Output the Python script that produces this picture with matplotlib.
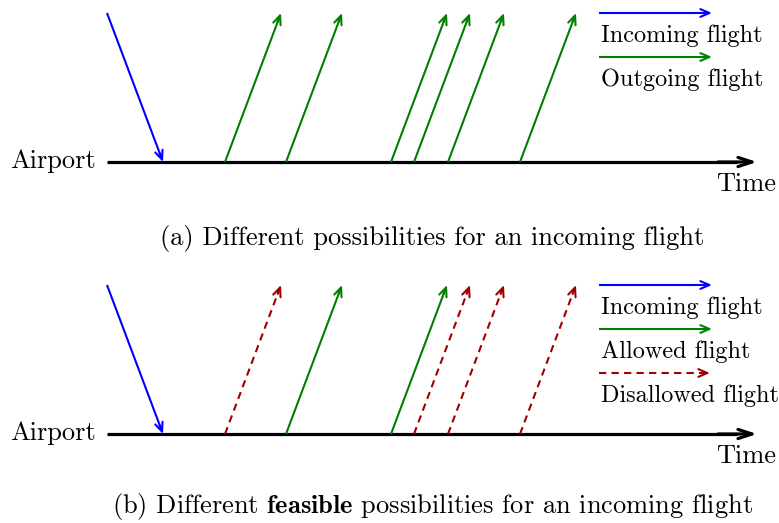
import matplotlib
matplotlib.use("Agg")
import matplotlib.pyplot as plt

plt.rcParams["mathtext.fontset"] = "cm"
plt.rcParams["font.family"] = "cmr10"
plt.rcParams["axes.unicode_minus"] = False

# departure times along the time axis (same units as the drawing)
incoming_start = 107
incoming_arrival = 163
departures = [225, 286, 391, 414, 448, 520]
allowed = [False, True, True, False, False, False]
climb = 56  # horizontal travel of a departing flight

captions = ["(a) Different possibilities for an incoming flight",
            "(b) Different $\\mathbf{feasible}$ possibilities for an incoming flight"]
legend_a = ["Incoming flight", "Outgoing flight"]
legend_b = ["Incoming flight", "Allowed flight", "Disallowed flight"]

BLUE = "#0000ff"
GREEN = "#008000"
RED = "#a00000"
FS = 19
FS_LEG = 17.5

fig = plt.figure(figsize=(7.79, 5.23), dpi=100)
ax = fig.add_axes([0, 0, 1, 1])
ax.set_xlim(0, 779)
ax.set_ylim(523, 0)
ax.axis("off")


def arrow(x0, y0, x1, y1, color, lw=1.5, dashed=False, hl=0.65, hw=0.28):
    ls = (0, (3.5, 2.5)) if dashed else "-"
    # shaft stops a bit short so the head stays crisp
    f = 0.97
    ax.plot([x0, x0 + (x1 - x0) * f], [y0, y0 + (y1 - y0) * f],
            color=color, lw=lw, linestyle=ls, solid_capstyle="butt")
    hx = x1 - (x1 - x0) * 0.06
    hy = y1 - (y1 - y0) * 0.06
    ax.annotate("", xy=(x1, y1), xytext=(hx, hy),
                arrowprops=dict(arrowstyle=f"->,head_length={hl},head_width={hw}",
                                color=color, lw=lw, shrinkA=0, shrinkB=0,
                                mutation_scale=10))


def panel(ground, top, caption, caption_y, legend, colored):
    # time axis
    arrow(incoming_start, ground, 757, ground, "black", lw=2.3, hl=1.0, hw=0.33)
    ax.text(96, ground + 6, "Airport", ha="right", va="baseline", fontsize=FS)
    ax.text(776, ground + 29, "Time", ha="right", va="baseline", fontsize=FS)

    # incoming flight
    arrow(incoming_start, top, incoming_arrival, ground, BLUE)

    # departing flights
    for dep, ok in zip(departures, colored):
        if ok:
            arrow(dep, ground, dep + climb, top, GREEN)
        else:
            arrow(dep, ground, dep + climb, top, RED, dashed=True)

    # legend
    styles = [(BLUE, False), (GREEN, False), (RED, True)]
    for i, label in enumerate(legend):
        y = top + i * 44
        c, d = styles[i]
        if d:
            arrow(599, y, 710, y, c, dashed=True)
        else:
            arrow(599, y, 712, y, c)
        ax.text(601, y + 29, label, ha="left", va="baseline", fontsize=FS_LEG)

    ax.text(432.5, caption_y, caption, ha="center", va="baseline", fontsize=FS)


panel(162, 13, captions[0], 245, legend_a, [True] * len(departures))
panel(434, 285, captions[1], 513, legend_b, allowed)

fig.savefig("out.png", dpi=100)
